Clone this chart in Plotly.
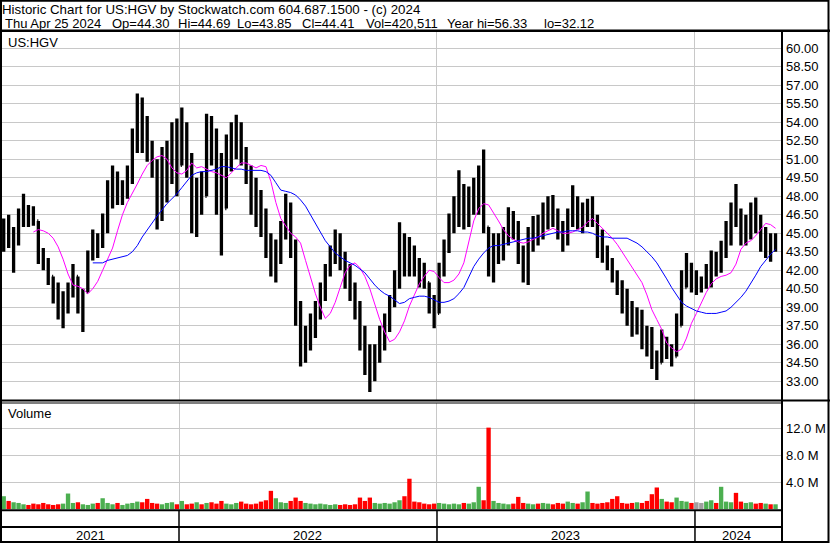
import pandas as pd
import plotly.graph_objects as go

W, H = 830, 543
FONT = "Liberation Sans, Arial, sans-serif"

# ---------------- data (weekly bars) ----------------
week_dates = pd.date_range("2021-04-28", periods=157, freq="7D")

opens = [44.5, 45.0, 44.5, 44.8, 46.5, 46.8, 46.5, 46.0, 43.2, 42.7,
         41.5, 40.0, 39.0, 39.5, 40.2, 41.5, 39.5, 40.2, 43.0, 44.5,
         44.0, 45.8, 47.8, 49.5, 48.0, 48.5, 49.8, 52.5, 54.5, 53.0,
         51.5, 50.0, 47.0, 50.5, 51.5, 52.0, 50.5, 52.5, 51.0, 47.0,
         48.5, 48.0, 53.0, 52.0, 50.5, 47.0, 51.5, 52.5, 53.0, 51.0,
         50.0, 47.5, 46.5, 45.5, 44.0, 42.5, 43.5, 45.5, 47.0, 44.0,
         38.5, 35.5, 36.5, 37.5, 39.0, 40.5, 42.0, 43.5, 44.5, 43.0,
         41.5, 40.5, 39.0, 36.5, 34.5, 33.5, 35.0, 36.5, 38.0, 39.5,
         41.5, 43.5, 43.0, 42.5, 42.0, 41.5, 41.0, 39.0, 38.5, 42.0,
         44.0, 45.5, 47.0, 48.0, 46.5, 47.5, 48.5, 49.5, 45.5, 43.0,
         43.5, 44.0, 44.5, 46.5, 45.5, 43.0, 42.5, 44.5, 45.5, 45.0,
         46.5, 47.0, 46.5, 45.0, 44.5, 46.5, 47.5, 46.0, 46.5, 47.0,
         46.0, 44.0, 43.5, 42.8, 41.8, 40.8, 39.5, 38.5, 37.5, 38.0,
         36.5, 36.0, 35.0, 34.5, 36.0, 35.5, 35.0, 37.5, 40.6, 42.0,
         41.0, 41.0, 41.0, 41.5, 43.0, 42.5, 43.5, 45.5, 46.5, 46.0,
         45.0, 45.5, 46.5, 45.5, 44.0, 44.5, 44.30]

highs = [46.2, 46.5, 45.5, 47.0, 48.2, 47.3, 47.2, 46.0, 43.8, 43.0,
         41.5, 41.0, 40.3, 41.0, 42.5, 41.5, 40.5, 43.6, 45.3, 45.0,
         46.6, 49.3, 50.5, 50.0, 49.3, 50.5, 53.5, 56.33, 56.0, 54.5,
         52.5, 51.0, 52.0, 52.5, 54.0, 54.3, 55.2, 54.0, 51.5, 49.5,
         50.0, 54.7, 54.5, 53.5, 51.5, 53.0, 54.0, 54.6, 54.0, 52.0,
         50.5, 49.5, 48.5, 47.0, 45.0, 44.5, 46.0, 48.2, 47.5, 44.5,
         39.5, 37.5, 38.5, 39.5, 41.0, 42.5, 44.0, 45.3, 45.0, 43.5,
         42.5, 41.0, 39.5, 37.5, 36.0, 36.0, 37.5, 38.5, 40.0, 42.0,
         45.9, 45.0, 44.7, 44.0, 43.0, 42.6, 41.0, 40.0, 42.6, 44.5,
         46.6, 48.0, 50.1, 49.0, 48.8, 49.5, 50.5, 51.8, 45.5, 45.0,
         45.0, 45.5, 47.1, 46.8, 46.0, 44.0, 45.5, 46.4, 46.5, 47.5,
         48.0, 48.1, 47.0, 46.0, 47.0, 48.9, 48.0, 47.5, 47.8, 48.0,
         46.5, 45.3, 44.0, 43.0, 42.0, 41.2, 40.5, 39.5, 39.0, 38.8,
         37.5, 37.4, 35.5, 37.2, 36.6, 36.0, 38.5, 42.0, 43.4, 42.6,
         42.0, 41.5, 42.5, 43.6, 43.5, 44.4, 46.0, 47.5, 49.0, 47.0,
         46.5, 47.5, 47.9, 46.5, 45.5, 45.0, 45.0]

lows = [43.5, 43.8, 41.8, 44.0, 45.5, 45.5, 45.6, 42.5, 42.0, 40.8,
        39.3, 38.0, 37.3, 38.5, 39.8, 38.5, 37.0, 40.2, 42.8, 43.0,
        43.8, 45.0, 47.0, 47.3, 47.3, 47.8, 49.0, 51.5, 51.5, 50.8,
        49.5, 45.3, 46.0, 47.5, 49.0, 48.0, 50.5, 49.5, 45.0, 44.7,
        46.5, 48.0, 50.5, 46.5, 43.2, 47.0, 50.0, 51.0, 50.5, 49.0,
        46.5, 45.5, 44.7, 43.0, 41.5, 41.0, 42.5, 44.5, 43.0, 37.5,
        34.2, 34.5, 35.5, 36.5, 38.0, 39.5, 41.5, 42.5, 42.0, 40.5,
        39.5, 38.0, 35.5, 33.5, 32.12, 33.0, 34.5, 35.5, 37.0, 39.0,
        40.5, 41.5, 41.5, 41.5, 40.6, 40.5, 38.5, 37.3, 38.5, 41.5,
        43.4, 45.0, 45.5, 45.3, 45.5, 46.5, 46.5, 45.0, 41.5, 41.0,
        42.5, 42.8, 44.0, 44.5, 42.5, 41.0, 40.8, 43.5, 44.0, 44.5,
        45.3, 45.5, 44.5, 43.5, 44.0, 45.5, 45.3, 45.0, 45.5, 45.5,
        43.0, 42.6, 42.0, 41.0, 40.0, 38.5, 37.5, 36.6, 36.8, 35.6,
        35.0, 34.0, 33.1, 34.5, 34.8, 34.2, 35.0, 37.5, 40.6, 40.2,
        40.0, 40.2, 40.5, 40.6, 41.5, 41.8, 43.0, 44.0, 45.5, 44.0,
        44.0, 44.5, 45.0, 43.5, 43.0, 42.7, 43.5]

closes = [45.0, 44.5, 44.8, 46.5, 46.8, 46.5, 46.2, 43.2, 42.7, 41.5,
          40.0, 39.0, 39.5, 40.2, 41.5, 39.5, 40.0, 43.0, 44.5, 44.0,
          45.8, 47.8, 49.5, 48.0, 48.5, 49.8, 52.5, 54.5, 53.0, 51.5,
          50.0, 47.0, 50.5, 51.5, 52.0, 50.0, 52.5, 51.0, 47.0, 48.5,
          48.0, 53.0, 52.0, 50.5, 46.0, 51.5, 52.5, 53.0, 51.0, 50.0,
          47.5, 46.5, 45.5, 44.0, 42.5, 43.5, 45.5, 47.0, 44.0, 38.5,
          35.5, 36.5, 37.5, 39.0, 40.5, 42.0, 43.5, 44.5, 43.0, 41.5,
          40.5, 39.0, 36.5, 34.5, 33.5, 35.0, 36.5, 38.0, 39.5, 41.5,
          43.5, 43.0, 42.5, 42.0, 41.5, 41.0, 39.0, 38.5, 42.0, 44.0,
          45.5, 47.0, 48.0, 46.5, 47.5, 48.5, 49.5, 46.0, 43.0, 43.5,
          44.0, 44.5, 46.5, 45.5, 43.0, 42.5, 44.5, 45.5, 45.0, 46.5,
          47.0, 46.5, 45.0, 44.5, 46.5, 47.5, 46.0, 46.5, 47.0, 46.0,
          44.0, 43.5, 42.8, 41.8, 40.8, 39.5, 38.5, 37.5, 38.0, 36.5,
          36.0, 35.0, 34.0, 36.0, 35.5, 35.0, 37.5, 40.5, 42.0, 41.0,
          41.0, 41.0, 41.5, 43.0, 42.5, 43.5, 45.5, 46.5, 46.0, 45.0,
          45.5, 46.5, 45.5, 44.0, 44.5, 43.5, 44.41]

# short moving average (magenta), starts at week 6
ma_short = [None] * 6 + [
    45.1, 45.3, 45.2, 45.0, 44.6, 43.9, 42.9, 41.7, 40.8, 40.7,
    40.5, 40.1, 40.5, 41.1, 42.0, 42.9, 43.8, 45.2, 46.5, 47.5,
    48.2, 49.0, 49.8, 50.5, 50.9, 51.2, 51.3, 51.0, 50.3, 49.9,
    49.8, 50.1, 50.7, 50.3, 50.4, 50.2, 50.0, 49.9, 49.7, 49.5,
    49.9, 50.3, 50.7, 50.7, 50.5, 50.3, 50.5, 50.4, 49.2, 47.5,
    46.2, 45.6, 45.0, 44.7, 44.2, 42.8, 41.4, 40.1, 39.0, 38.1,
    38.5, 39.4, 40.6, 41.8, 42.4, 42.6, 42.2, 41.5, 40.5, 39.3,
    38.0, 37.0, 36.2, 36.4, 37.0, 37.9, 39.1, 40.0, 40.9, 41.5,
    42.0, 41.9, 41.4, 41.0, 41.0, 41.2, 41.7, 42.6, 44.4, 46.0,
    47.0, 47.4, 47.3, 46.7, 46.0, 45.3, 44.8, 44.5, 44.3, 44.2,
    44.3, 44.5, 44.7, 45.0, 45.2, 45.4, 45.2, 45.0, 45.0, 45.1,
    45.3, 45.5, 45.9, 46.2, 45.8, 45.4, 45.0, 44.6, 44.1, 43.5,
    42.9, 42.3, 41.7, 41.0, 40.0, 38.8, 38.0, 37.2, 36.1, 35.7,
    35.4, 35.6, 36.5, 37.7, 38.5, 39.4, 40.2, 40.9, 41.3, 41.5,
    41.6, 41.8, 42.5, 43.7, 44.2, 44.4, 44.8, 45.3, 45.8, 45.7,
    45.4]

# long moving average (blue), starts at week 18
ma_long = [None] * 18 + [
    42.6, 42.6, 42.6, 42.8, 42.9, 43.0, 43.1, 43.2, 43.5, 44.0,
    44.7, 45.3, 45.9, 46.4, 46.9, 47.4, 47.8, 48.2, 48.7, 49.2,
    49.7, 49.9, 50.0, 50.0, 50.1, 50.2, 50.4, 50.4, 50.3, 50.2,
    50.2, 50.1, 50.1, 50.1, 50.1, 50.0, 49.7, 49.1, 48.5, 48.4,
    48.3, 48.1, 47.7, 47.2, 46.5, 45.7, 45.0, 44.4, 43.9, 43.4,
    43.1, 42.8, 42.6, 42.4, 42.1, 41.8, 41.3, 40.8, 40.4, 40.1,
    39.9, 39.6, 39.3, 39.4, 39.7, 39.8, 39.9, 39.9, 39.8, 39.6,
    39.4, 39.4, 39.5, 39.7, 40.1, 40.6, 41.4, 42.3, 42.9, 43.4,
    43.8, 44.0, 44.0, 44.1, 44.2, 44.3, 44.4, 44.5, 44.6, 44.6,
    44.7, 44.8, 44.9, 45.0, 45.1, 45.1, 45.2, 45.2, 45.2, 45.1,
    45.1, 45.0, 44.8, 44.7, 44.7, 44.6, 44.6, 44.6, 44.6, 44.4,
    44.2, 43.9, 43.5, 43.1, 42.6, 42.0, 41.3, 40.6, 40.0, 39.4,
    39.1, 38.9, 38.7, 38.6, 38.5, 38.5, 38.5, 38.6, 38.7, 39.0,
    39.4, 39.8, 40.3, 40.9, 41.6, 42.3, 42.8, 43.3, 43.7]

# volume in millions
volume_m = [1.9, 1.2, 1.0, 0.9, 0.7, 0.6, 0.8, 0.7, 0.9, 0.7,
            0.6, 0.7, 0.8, 2.3, 0.9, 1.0, 0.7, 0.6, 0.8, 0.9,
            1.6, 0.9, 0.7, 0.9, 0.6, 0.8, 0.9, 1.1, 1.0, 1.5,
            0.9, 0.8, 0.7, 0.9, 1.0, 0.7, 1.2, 0.7, 0.8, 1.0,
            0.7, 0.9, 1.0, 0.8, 1.2, 0.8, 0.7, 0.9, 1.1, 0.8,
            0.7, 0.8, 1.1, 1.3, 2.7, 1.6, 1.0, 0.9, 1.2, 1.7,
            1.2, 0.9, 0.8, 0.7, 0.8, 0.7, 0.6, 0.7, 0.6, 0.7,
            0.6, 0.7, 1.7, 1.2, 1.7, 0.9, 0.8, 0.9, 0.8, 1.0,
            1.3, 1.9, 4.5, 1.1, 1.0, 0.8, 0.7, 0.8, 0.9, 0.8,
            0.7, 0.8, 0.7, 0.9, 0.8, 1.0, 3.3, 1.3, 12.1, 1.2,
            0.9, 0.8, 0.7, 0.8, 1.8, 0.9, 0.8, 0.7, 0.8, 0.9,
            0.8, 0.7, 0.9, 0.8, 1.1, 0.9, 0.8, 1.0, 2.6, 0.9,
            0.8, 0.9, 1.0, 1.5, 1.9, 0.9, 0.8, 0.9, 1.0, 0.9,
            1.2, 2.2, 3.2, 1.5, 1.1, 1.0, 1.7, 1.2, 1.1, 0.9,
            1.0, 0.9, 1.1, 1.3, 0.9, 3.3, 1.1, 1.0, 2.4, 1.1,
            0.9, 1.0, 0.8, 0.9, 0.8, 0.7, 0.7]

price_ticks = [33.0, 34.5, 36.0, 37.5, 39.0, 40.5, 42.0, 43.5, 45.0, 46.5,
               48.0, 49.5, 51.0, 52.5, 54.0, 55.5, 57.0, 58.5, 60.0]
volume_ticks = [4, 8, 12]
volume_tick_text = ["4.0 M", "8.0 M", "12.0 M"]
year_starts = ["2022-01-01", "2023-01-01", "2024-01-01"]
year_labels = ["2021", "2022", "2023", "2024"]

title_line = "Historic Chart for US:HGV by Stockwatch.com 604.687.1500 - (c) 2024"
info_parts = ["Thu Apr 25 2024", "Op=44.30", "Hi=44.69", "Lo=43.85", "Cl=44.41",
              "Vol=420,511", "Year hi=56.33", "lo=32.12"]

# ---------------- layout geometry (pixels) ----------------
X_RANGE = [pd.Timestamp("2021-04-25 14:00"), pd.Timestamp("2024-05-01 17:00")]
PLOT_L, PLOT_R = 2, 781
PRICE_TOP, PRICE_BOT = 32, 400
VOL_TOP, VOL_BOT = 403, 509
GRID = "#c8c8c8"


def fx(p):
    return p / W


def fy(p):
    return 1 - p / H


vol_colors = ["#ff0000" if c < o else ("#4caf50" if c > o else "#a0a0a0")
              for o, c in zip(opens, closes)]

fig = go.Figure()
fig.add_trace(go.Ohlc(x=week_dates, open=opens, high=highs, low=lows, close=closes,
                      increasing_line_color="black", decreasing_line_color="black",
                      line_width=3.3, tickwidth=0.22, xaxis="x", yaxis="y",
                      hoverinfo="skip"))
fig.add_trace(go.Scatter(x=week_dates, y=ma_short, mode="lines",
                         line=dict(color="#ff00ff", width=1), xaxis="x", yaxis="y",
                         hoverinfo="skip"))
fig.add_trace(go.Scatter(x=week_dates, y=ma_long, mode="lines",
                         line=dict(color="#0000ff", width=1), xaxis="x", yaxis="y",
                         hoverinfo="skip"))
fig.add_trace(go.Bar(x=week_dates, y=volume_m, marker_color=vol_colors,
                     marker_line_width=0, xaxis="x2", yaxis="y2", hoverinfo="skip"))

axis_font = dict(family=FONT, size=13, color="#000000")
common_x = dict(type="date", range=X_RANGE, domain=[fx(PLOT_L), fx(PLOT_R)],
                tickvals=year_starts, showticklabels=False, ticks="",
                showgrid=True, gridcolor=GRID, gridwidth=1, zeroline=False,
                showline=False, fixedrange=True)

fig.update_layout(
    width=W, height=H, margin=dict(l=0, r=0, t=0, b=0),
    paper_bgcolor="white", plot_bgcolor="white", showlegend=False,
    bargap=0.12,
    xaxis=dict(**common_x, anchor="y", rangeslider=dict(visible=False)),
    xaxis2=dict(**common_x, anchor="y2", matches="x"),
    yaxis=dict(domain=[fy(PRICE_BOT), fy(PRICE_TOP)],
               range=[31.48, 61.32], side="right", tickvals=price_ticks,
               tickformat=".2f", tickfont=axis_font, ticks="",
               showgrid=True, gridcolor=GRID, zeroline=False, showline=False,
               ticklabelstandoff=4, fixedrange=True),
    yaxis2=dict(domain=[fy(VOL_BOT), fy(VOL_TOP)], range=[0, 15.76],
                side="right", tickvals=volume_ticks, ticktext=volume_tick_text,
                tickfont=axis_font, ticks="", showgrid=True, gridcolor=GRID,
                zeroline=False, showline=False, ticklabelstandoff=4,
                fixedrange=True),
)

# ---------------- frame lines ----------------
shapes = []


def hline(y, x0, x1, w):
    shapes.append(dict(type="line", xref="paper", yref="paper",
                       x0=fx(x0), x1=fx(x1), y0=fy(y), y1=fy(y),
                       line=dict(color="black", width=w)))


def vline(x, y0, y1, w):
    shapes.append(dict(type="line", xref="paper", yref="paper",
                       x0=fx(x), x1=fx(x), y0=fy(y0), y1=fy(y1),
                       line=dict(color="black", width=w)))


shapes.append(dict(type="rect", xref="paper", yref="paper",
                   x0=fx(1), x1=fx(828.5), y0=fy(542), y1=fy(0.8),
                   line=dict(color="black", width=2)))
hline(30.8, 0, W, 2.5)
vline(782, 31, H, 2)
hline(400.5, 0, W, 2)
hline(403, 0, 782, 1)
hline(510.3, 0, 782, 2)
hline(527, 0, 782, 2)
for ys in year_starts:
    shapes.append(dict(type="line", xref="x2", yref="paper",
                       x0=ys, x1=ys, y0=fy(541), y1=fy(510),
                       line=dict(color="black", width=1.5)))
fig.update_layout(shapes=shapes)

# ---------------- texts ----------------
ann = []
txt_font = dict(family=FONT, size=13, color="#000000")
ann.append(dict(text=title_line, x=fx(0), y=fy(9.5), xref="paper", yref="paper",
                xanchor="left", yanchor="middle", showarrow=False,
                font=dict(family=FONT, size=13.3, color="#000000")))
info_x = [3, 110, 176, 235, 300, 364, 445, 542]
for t, xp in zip(info_parts, info_x):
    ann.append(dict(text=t, x=fx(xp), y=fy(23.5), xref="paper", yref="paper",
                    xanchor="left", yanchor="middle", showarrow=False, font=txt_font))
ann.append(dict(text="US:HGV", x=fx(6), y=fy(42), xref="paper", yref="paper",
                xanchor="left", yanchor="middle", showarrow=False, font=txt_font))
ann.append(dict(text="Volume", x=fx(6), y=fy(413.5), xref="paper", yref="paper",
                xanchor="left", yanchor="middle", showarrow=False, font=txt_font))

bounds = [X_RANGE[0]] + [pd.Timestamp(s) for s in year_starts] + [pd.Timestamp("2024-04-28")]
for lab, a, b in zip(year_labels, bounds[:-1], bounds[1:]):
    ann.append(dict(text=lab, x=a + (b - a) / 2, y=fy(535), xref="x2", yref="paper",
                    xanchor="center", yanchor="middle", showarrow=False, font=txt_font))
fig.update_layout(annotations=ann)

fig.write_html("out.html", config=dict(displayModeBar=False, staticPlot=True),
               post_script="document.body.style.margin='0';"
                           "document.body.style.overflow='hidden';")
